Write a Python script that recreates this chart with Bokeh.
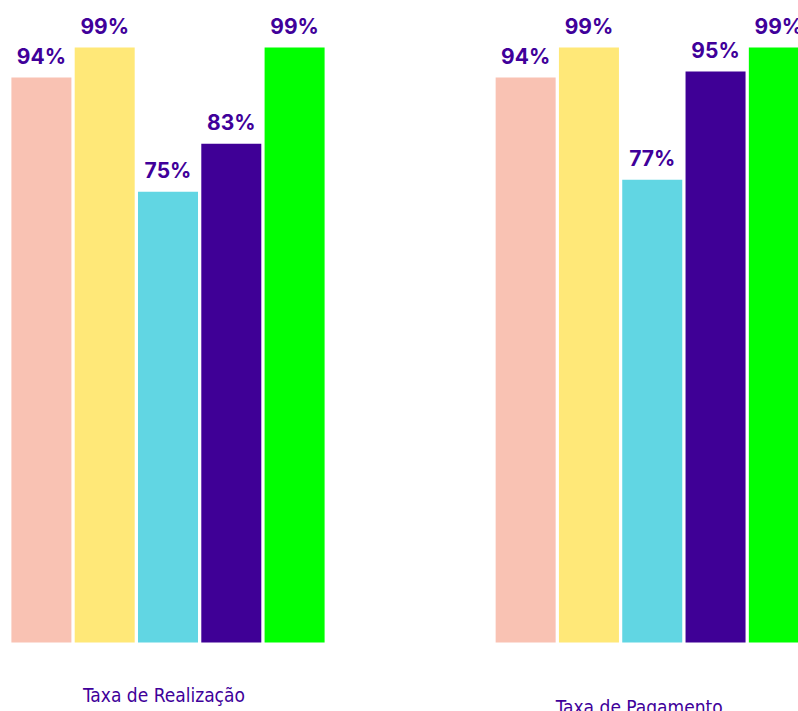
from bokeh.plotting import figure
from bokeh.models import ColumnDataSource, Range1d
from bokeh.core.properties import value
from bokeh.embed import file_html
from bokeh.resources import INLINE

groups = ["Taxa de Realização", "Taxa de Pagamento"]
series = ["S1", "S2", "S3", "S4", "S5"]
colors = ["#F9C2B3", "#FFE878", "#61D6E3", "#3F0096", "#00FF00"]
realizacao = [94, 99, 75, 83, 99]
pagamento = [94, 99, 77, 95, 99]
label_color = "#40009A"

group_gap = 7.65  # distance between group centres, in bar slots
bar_w = 0.948

xs, tops, cols, labels = [], [], [], []
for g, vals in enumerate([realizacao, pagamento]):
    for i, v in enumerate(vals):
        xs.append(g * group_gap + (i - 2))
        tops.append(v)
        cols.append(colors[i])
        labels.append(f"{v}%")

src = ColumnDataSource(dict(x=xs, top=tops, color=cols, label=labels))

W, H = 798, 711
px_per_unit = 63.3
px_per_pct = 6.01
base_px = 642
x0 = -167.5 / px_per_unit
y_end = base_px / px_per_pct
y_start = -(H - base_px) / px_per_pct

p = figure(width=W, height=H, output_backend="svg", toolbar_location=None,
           x_range=Range1d(x0, x0 + W / px_per_unit),
           y_range=Range1d(y_start, y_end),
           min_border=0, outline_line_color=None)
p.axis.visible = False
p.grid.visible = False
p.background_fill_color = "white"
p.border_fill_color = "white"

p.vbar(x="x", top="top", bottom=0, width=bar_w, color="color", source=src, line_color=None)
p.text(x="x", y="top", text="label", source=src, text_align="center",
       text_baseline="bottom", y_offset=-9, text_color=label_color,
       text_font=value("Inter"), text_font_style="bold", text_font_size="21px")

gsrc = ColumnDataSource(dict(x=[0, group_gap], y=[0, 0], text=groups,
                             yo=[52, 64], xo=[-4, -13]))
p.text(x="x", y="y", text="text", source=gsrc, x_offset="xo", y_offset="yo",
       text_align="center", text_baseline="middle", text_color=label_color,
       text_font=value("DejaVu Sans Condensed"), text_font_size="19px")

open("out.html", "w").write(file_html(p, INLINE))
